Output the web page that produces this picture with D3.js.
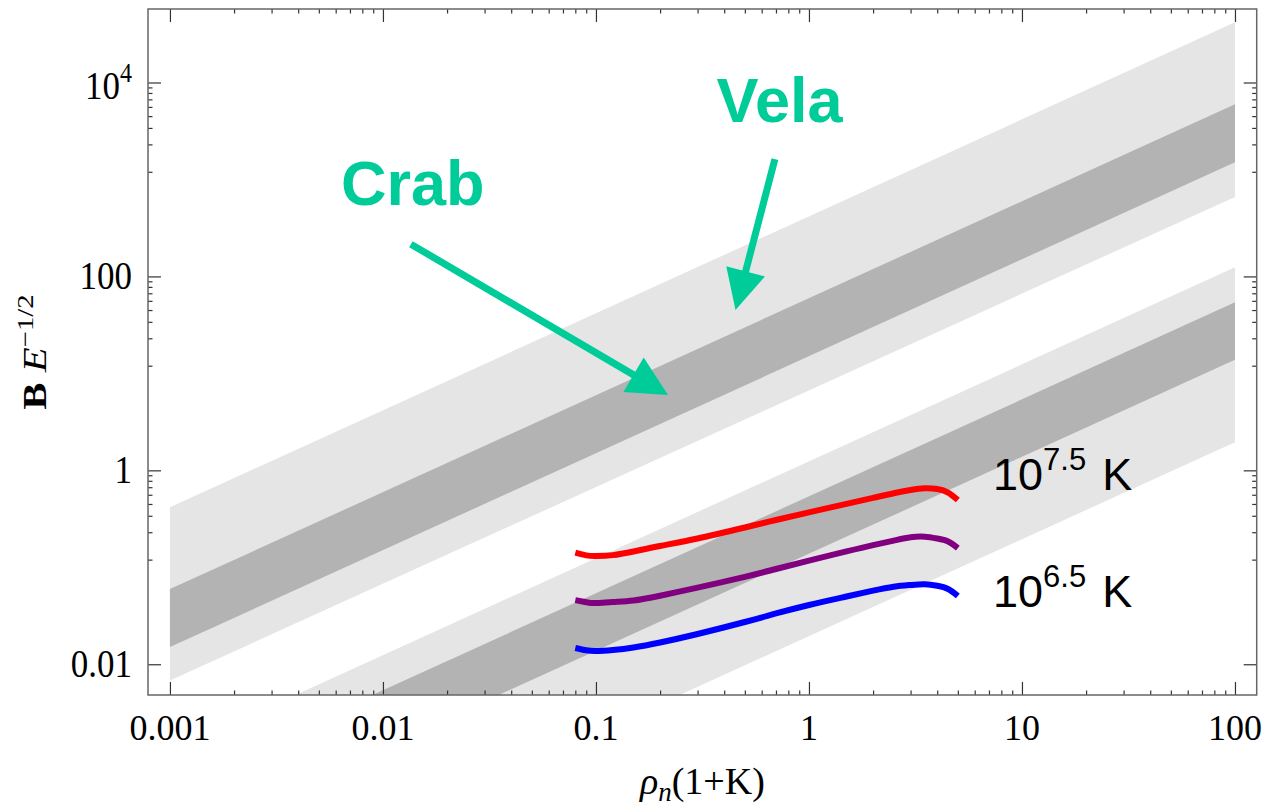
<!DOCTYPE html>
<html>
<head>
<meta charset="utf-8">
<script src="https://cdn.jsdelivr.net/npm/d3@7"></script>
<style>
  html, body { margin: 0; padding: 0; background: #fff; }
  svg { display: block; }
</style>
</head>
<body>
<svg id="chart" width="1267" height="806"></svg>
<script>
// ---- axis ticks -------------------------------------------------------
const xTicks = [0.001, 0.01, 0.1, 1, 10, 100];
const xTickLabels = ["0.001", "0.01", "0.1", "1", "10", "100"];
const yTicks = [0.01, 1, 100, 10000];
const yTickBase = ["0.01", "1", "100", "10"];
const yTickExp = ["", "", "", "4"];

// ---- allowed regions (edges at the two ends of the rho range) ---------
const bandRho = [0.001, 100];
const upperOuterHi = [0.417, 41700];
const upperInnerHi = [0.0596, 5960];
const upperInnerLo = [0.01503, 1503];
const upperOuterLo = [0.0068, 660];
const lowerOuterHi = [0.00124, 124];
const lowerInnerHi = [0.00054, 54];
const lowerInnerLo = [0.000138, 13.8];
const lowerOuterLo = [0.0000195, 1.95];

// ---- model curves ------------------------------------------------------
const rhoGrid = [0.08, 0.09, 0.1, 0.12, 0.15, 0.2, 0.3, 0.5, 0.7, 1, 1.5, 2, 2.5, 3, 3.5, 4, 4.5, 5];
const curveHot  = [0.1414, 0.1327, 0.1308, 0.1335, 0.1455, 0.1658, 0.1981, 0.2572, 0.3073, 0.369, 0.4516, 0.5205, 0.5805, 0.6264, 0.6538, 0.6414, 0.5903, 0.4941];
const curveMid  = [0.0459, 0.04366, 0.04275, 0.04387, 0.04547, 0.05096, 0.06163, 0.07979, 0.09605, 0.117, 0.1458, 0.1694, 0.1884, 0.2039, 0.2068, 0.1981, 0.1845, 0.1577];
const curveCool = [0.01472, 0.01394, 0.01371, 0.01404, 0.0149, 0.01678, 0.02053, 0.02729, 0.0334, 0.04087, 0.05, 0.05752, 0.0631, 0.06569, 0.06679, 0.06448, 0.05974, 0.05059];
const curveColors = ["#ff0000", "#800080", "#0000ff"];

// ---- annotations (data coordinates) ------------------------------------
const arrowNames = ["Crab", "Vela"];
const arrowFrom = [[0.01353, 215], [0.692, 1618]];
const arrowTo = [[0.218, 5.97], [0.452, 45]];
const nameAt = [[0.00635, 543], [0.368, 3899]];
const tempLabels = [["10", "7.5", "K"], ["10", "6.5", "K"]];
const tempAt = [[7.31, 0.626], [7.31, 0.039]];

// ---- layout -------------------------------------------------------------
const L = 148, R = 1256.7, T = 9, B = 695;
const x = d3.scaleLog().domain([Math.pow(10, -3.103), Math.pow(10, 2.102)]).range([L, R]);
const y = d3.scaleLog().domain([Math.pow(10, -2.317), Math.pow(10, 4.758)]).range([B, T]);

const svg = d3.select("#chart");
const serif = "'Liberation Serif', 'Times New Roman', serif";
const sans = "'Liberation Sans', Arial, sans-serif";

svg.append("defs").append("clipPath").attr("id", "plotClip")
  .append("rect").attr("x", L).attr("y", T).attr("width", R - L).attr("height", B - T);

const plot = svg.append("g").attr("clip-path", "url(#plotClip)");

function band(lo, hi, fill) {
  const rows = bandRho.map((r, i) => ({ r, lo: lo[i], hi: hi[i] }));
  plot.append("path")
    .datum(rows)
    .attr("fill", fill)
    .attr("d", d3.area().x(d => x(d.r)).y0(d => y(d.lo)).y1(d => y(d.hi)));
}
const light = "#e5e5e5", dark = "#b3b3b3";
band(upperOuterLo, upperOuterHi, light);
band(upperInnerLo, upperInnerHi, dark);
band(lowerOuterLo, lowerOuterHi, light);
band(lowerInnerLo, lowerInnerHi, dark);

// model curves
const line = d3.line().x(d => x(d[0])).y(d => y(d[1])).curve(d3.curveNatural);
[curveHot, curveMid, curveCool].forEach((vals, i) => {
  plot.append("path")
    .datum(rhoGrid.map((r, j) => [r, vals[j]]))
    .attr("fill", "none")
    .attr("stroke", curveColors[i])
    .attr("stroke-width", 6)
    .attr("d", line);
});

// ---- frame and ticks ----------------------------------------------------
function minorBetween(ticks) {
  const out = [];
  for (let i = 0; i + 1 < ticks.length; i++) {
    const a = ticks[i], b = ticks[i + 1], s = (b - a) / 9;
    for (let k = 1; k <= 8; k++) out.push(a + k * s);
  }
  return out;
}
const xMinor = minorBetween(xTicks);
const yMinor = minorBetween(yTicks);

const tickColor = "#333";
function axisGroup(gen, tx, ty) {
  const g = svg.append("g").attr("transform", `translate(${tx},${ty})`).call(gen);
  g.select(".domain").remove();
  g.selectAll("line").attr("stroke", tickColor).attr("stroke-width", 1.2);
  g.selectAll("text").remove();
  return g;
}
const MAJ = 13, MIN = 4.5;
axisGroup(d3.axisBottom(x).tickValues(xTicks).tickSize(-MAJ), 0, B);
axisGroup(d3.axisBottom(x).tickValues(xMinor).tickSize(-MIN), 0, B);
axisGroup(d3.axisTop(x).tickValues(xTicks).tickSize(-MAJ), 0, T);
axisGroup(d3.axisTop(x).tickValues(xMinor).tickSize(-MIN), 0, T);
axisGroup(d3.axisLeft(y).tickValues(yTicks).tickSize(-MAJ), L, 0);
axisGroup(d3.axisLeft(y).tickValues(yMinor).tickSize(-MIN), L, 0);
axisGroup(d3.axisRight(y).tickValues(yTicks).tickSize(-MAJ), R, 0);
axisGroup(d3.axisRight(y).tickValues(yMinor).tickSize(-MIN), R, 0);

svg.append("rect")
  .attr("x", L).attr("y", T).attr("width", R - L).attr("height", B - T)
  .attr("fill", "none").attr("stroke", "#666").attr("stroke-width", 1.5);

// tick labels
svg.append("g").selectAll("text").data(xTicks).join("text")
  .attr("x", d => x(d)).attr("y", 740)
  .attr("text-anchor", "middle")
  .attr("font-family", serif).attr("font-size", 36).attr("fill", "#000")
  .text((d, i) => xTickLabels[i]);

yTicks.forEach((v, i) => {
  const t = svg.append("text")
    .attr("text-anchor", "end")
    .attr("font-family", serif).attr("font-size", 35).attr("fill", "#000")
    .attr("transform", `translate(${132},${y(v) + (yTickExp[i] ? 16.5 : 12.5)}) scale(1,1.15)`);
  t.append("tspan").text(yTickBase[i]);
  if (yTickExp[i]) t.append("tspan").attr("font-size", 24).attr("dy", -15).text(yTickExp[i]);
});

// axis titles
const xt = svg.append("text")
  .attr("x", (L + R) / 2).attr("y", 794)
  .attr("text-anchor", "middle")
  .attr("font-family", serif).attr("font-size", 38).attr("fill", "#000");
xt.append("tspan").attr("font-style", "italic").text("ρ");
xt.append("tspan").attr("font-style", "italic").attr("font-size", 27).attr("dy", 7).text("n");
xt.append("tspan").attr("dy", -7).text("(1+K)");

const yt = svg.append("text")
  .attr("text-anchor", "middle")
  .attr("font-family", serif).attr("font-size", 34).attr("fill", "#000")
  .attr("transform", `translate(46,${(T + B) / 2}) rotate(-90) scale(1.2,1)`);
yt.append("tspan").attr("font-weight", "bold").text("B ");
yt.append("tspan").attr("font-style", "italic").text("E");
yt.append("tspan").attr("font-size", 24).attr("dy", -13).text("−1/2");

// ---- annotations ---------------------------------------------------------
const teal = "#00cc99";
arrowNames.forEach((name, i) => {
  const x0 = x(arrowFrom[i][0]), y0 = y(arrowFrom[i][1]);
  const x1 = x(arrowTo[i][0]), y1 = y(arrowTo[i][1]);
  const len = Math.hypot(x1 - x0, y1 - y0);
  const ux = (x1 - x0) / len, uy = (y1 - y0) / len;
  const head = 40, half = 20;
  const bx = x1 - ux * head, by = y1 - uy * head;
  svg.append("line")
    .attr("x1", x0).attr("y1", y0).attr("x2", bx + ux * 2).attr("y2", by + uy * 2)
    .attr("stroke", teal).attr("stroke-width", 7);
  svg.append("polygon")
    .attr("points", [[x1, y1], [bx - uy * half, by + ux * half], [bx + uy * half, by - ux * half]].map(p => p.join(",")).join(" "))
    .attr("fill", teal);
  svg.append("text")
    .attr("x", x(nameAt[i][0])).attr("y", y(nameAt[i][1]))
    .attr("font-family", sans).attr("font-weight", "bold").attr("font-size", 63)
    .attr("fill", teal).text(name);
});

tempLabels.forEach((parts, i) => {
  const t = svg.append("text")
    .attr("x", x(tempAt[i][0])).attr("y", y(tempAt[i][1]))
    .attr("font-family", sans).attr("font-size", 45).attr("fill", "#000");
  t.append("tspan").text(parts[0]);
  t.append("tspan").attr("font-size", 31).attr("dy", -20).text(parts[1]);
  t.append("tspan").attr("dy", 20).attr("dx", 16).text(parts[2]);
});
</script>
</body>
</html>
